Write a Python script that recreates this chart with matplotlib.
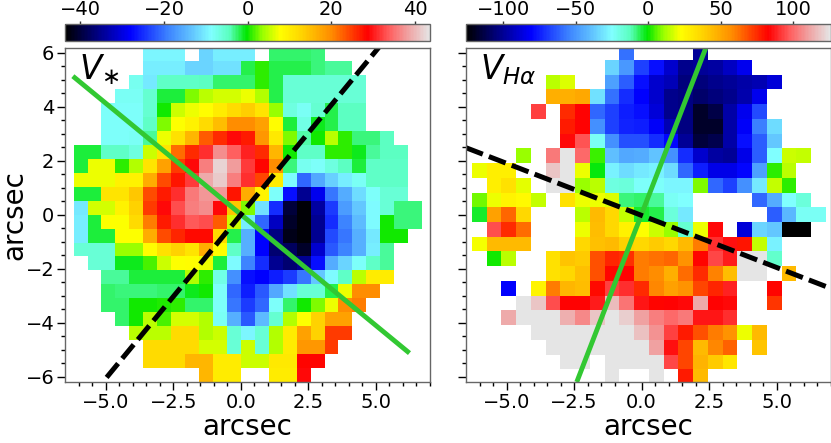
import numpy as np
import matplotlib
matplotlib.use('Agg')
import matplotlib.pyplot as plt
from matplotlib.colors import LinearSegmentedColormap

plt.rcParams['font.family'] = ['DejaVu Sans']
plt.rcParams['mathtext.fontset'] = 'dejavusans'

n = np.nan

# stellar velocity map, top row first
v_star = [
    [n,n,n,n,n,-9.5,-9.5,-9.5,n,-12,-10,-10,-10,n,-2.5,-2.5,-2.5,-3,n,n,n,n,n,n,n],
    [n,n,n,n,n,-10,-10,-10,-12,-12,-11,-11,-2,1,-2,-2,-2,-3,-3.5,-3.5,n,n,n,n,n],
    [n,n,n,n,-7.5,-10.5,-5,-5,-5,-4.5,-2.5,-2.5,-2.5,1,-2,-6,-6,-6,-6,-6,-6,n,n,n,n],
    [n,n,n,-8,-8,-5.5,-1.5,-1.5,3,5,6,6,7,4.5,-2,-6,-6,-6,-6,-6,-6,n,n,n,n],
    [n,n,-8.5,-8.5,-8.5,-5.5,0,5.5,7,8,10,12,13.5,11,3.5,-6.5,-8,-5.5,-2,-4.5,-4.5,n,n,n,n],
    [n,n,-8.5,-8.5,-8.5,-5,3,7.5,9.5,12,15,20,20,18,8,-1.5,-7,-1,-2,-4.5,-4.5,n,n,n,n],
    [n,n,-8.5,-8.5,-8,-3.5,7,11.5,16,23,26,29,27,19,10.5,3,-4,0,5,1,-3,-3,-4.5,n,n],
    [-1.5,-1.5,-5,-5,-6.5,5.5,11,22,26,31,37,34,30.5,26,16,0,-5,-5,1,1,-1,-3.5,-4.5,-4.5,n],
    [-1.5,7,7,1,4.5,11,18,25,29,36,42,38,32,28.5,20,-3,-7.5,-8.5,-6.5,-4.5,-1.5,-5,-5,-5,n],
    [7,7,7,9.5,9.5,17,24,27.5,32,39,41.5,36,31,24.5,10,-9,-21,-16,-12.5,-10,-8,-5,-5,-5,n],
    [-1.5,-1.5,11,11,14,24,27,31,35.5,37.5,37.5,27.5,17,9,-8.5,-27,-35,-29,-20,-15.5,-11.5,-8.5,-6,-6,n],
    [-10.5,6,6,9.5,13,25,29,33,36,37,29,14,3,-11,-25,-40,-43,-34,-24,-17,-13,-9,-6,-3,-3],
    [-10,-1.5,7.5,7.5,12,21,27,31,33.5,33,23,5.5,-10,-21,-32,-41,-43,-35,-25,-19,-14,-9,0,-3,-3],
    [-10,-1.5,-1.5,7.5,7.5,17,24,26.5,28,28,12,-2,-15,-28,-36,-42,-43,-35,-23,-20,-15,-10.5,0,0,n],
    [-6,-6,-6,3.5,3.5,8,11.5,13,11,17,8,-5,-15,-28,-37,-38,-41,-31,-22,-19,-15,-10,-3.5,n,n],
    [n,-6,-6,-1,-1,1.5,5.5,7.5,8,7,-1.5,-9,-19,-25,-35,-37,-35,-27,-15.5,-12,-8.5,-5,-3.5,n,n],
    [n,n,-3.5,-3.5,-1.5,-1.5,-1.5,-1.5,4.5,1,-7,-18,-27,-28,-26,-24,-20,-13,-9,-5,5,10,10,n,n],
    [n,n,-2.5,-3,-3,-3,-2.5,-2.5,-1,0,-8.5,-21,-26,-22,-16,-11,-6,-6,-2,7,20,20,n,n,n],
    [n,n,-2.5,-2.5,0,0,0.5,1,-2.5,-2.5,-8.5,-20,-24,-21,-8.5,-2.5,0,3,7,20,21,n,n,n,n],
    [n,n,n,-2.5,0,5,1.5,6,6,4.5,-8,-15,-22,-14,-5.5,4.5,7.5,13,18,18,n,n,n,n,n],
    [n,n,n,n,5,5,5,12,12,4.5,5.5,-6,-9.5,-6,4.5,10,18,13,25,25,n,n,n,n,n],
    [n,n,n,n,n,12,12,12,12,6,6,-6,5.5,-6,4.5,10,19,19,25,n,n,n,n,n,n],
    [n,n,n,n,n,12,12,12,16,16,10,10,5.5,5.5,10.5,10.5,28.5,28.5,n,n,n,n,n,n,n],
    [n,n,n,n,n,n,n,n,n,16,10,10,n,n,10,10,29,n,n,n,n,n,n,n,n],
]

# H-alpha velocity map, top row first
v_ha = [
    [n,n,n,n,n,n,n,n,n,n,-58,n,n,n,n,-100,n,n,n,n,n,n,n,n],
    [n,n,n,n,n,n,n,n,n,-35,-50,-68,-78,-90,-102,-100,-98,-92,-84,n,n,n,n,n],
    [n,n,n,n,n,14,18,n,n,-48,-62,-78,-90,-94,-105,-105,-102,-100,-97,-95,-88,n,n,n],
    [n,n,n,n,n,48,48,50,-32,-58,-72,-81,-90,-102,-104,-108,-105,-102,-96,-84,n,n,n,n],
    [n,n,n,n,93,n,75,83,-60,-68,-75,-78,-88,-102,-104,-118,-113,-97,-84,-66,n,n,n,n],
    [n,n,n,n,n,n,78,83,-52,-68,-74,-75,-82,-95,-104,-118,-118,-97,-82,-55,-33,n,n,n],
    [n,n,n,n,n,n,84,96,-23,-52,-65,-65,-72,-80,-100,-115,-112,-97,-78,-62,-38,n,n,n],
    [n,n,n,10,n,103,126,100,3,-40,-46,-45,-39,-52,-72,-90,-98,-100,-85,-62,-25,16,15,n],
    [20,28,28,n,n,118,126,20,-1,-28,-33,-30,-28,-33,-60,-75,-85,-85,-80,-48,2,14,n,n],
    [n,28,33,19,n,126,126,10,14,-19,-18,-24,-24,-27,-27,8,-60,-68,-52,-30,15,2,n,n],
    [7,20,26,24,15,n,33,20,20,18,-8,-7,-10,-23,-25,n,n,n,n,-60,-45,-25,-18,n],
    [-3,52,64,36,n,n,n,14,45,36,15,-3,-5,-18,-30,n,n,n,n,n,-62,-42,-23,-23],
    [n,95,75,63,n,n,n,20,44,36,27,22,16,10,-16,20,84,n,-88,-35,-38,-126,-126,n],
    [21,45,45,45,n,n,n,36,43,45,38,36,40,36,45,60,90,85,79,15,-28,n,n,n],
    [n,0,14,n,n,33,42,40,68,76,74,60,62,64,55,82,94,87,126,126,-15,n,n,n],
    [n,n,n,n,n,33,36,43,68,82,83,60,57,48,63,75,59,44,126,126,n,45,n,n],
    [n,n,-81,n,26,60,46,44,81,93,90,75,58,52,55,70,76,88,n,n,82,n,n,n],
    [n,n,n,126,118,95,83,83,87,116,102,86,82,83,84,112,83,84,n,n,73,n,n,n],
    [n,n,112,126,126,126,113,106,118,126,120,110,104,100,103,86,86,90,n,n,n,n,n,n],
    [n,n,n,n,126,126,126,126,126,126,126,117,108,93,78,68,60,55,20,45,n,n,n,n],
    [n,n,n,n,n,126,126,126,126,126,126,126,110,85,70,45,58,65,n,42,n,n,n,n],
    [n,n,n,n,n,n,126,126,n,126,126,126,126,94,70,47,40,31,n,n,n,n,n,n],
    [n,n,n,n,n,n,n,n,n,126,n,n,126,n,78,45,n,n,n,n,n,n,n,n],
]

# position angle lines, arcsec
star_green_x = [-6.22, 6.24]
star_green_y = [5.13, -5.13]
star_dash_x = [-4.97, 5.1]
star_dash_y = [-6.03, 6.19]
ha_green_x = [-2.4, 2.38]
ha_green_y = [-6.2, 6.185]
ha_dash_x = [-6.5, 7.0]
ha_dash_y = [2.48, -2.73]

vel_stops = [
    (0.0, (0, 0, 0)), (0.08, (0, 0, 120)), (0.177, (0, 0, 255)), (0.28, (60, 130, 255)),
    (0.35, (100, 200, 255)), (0.40, (128, 255, 255)), (0.45, (90, 255, 190)),
    (0.497, (0, 230, 0)), (0.54, (150, 255, 0)), (0.589, (255, 255, 0)), (0.645, (255, 215, 0)),
    (0.73, (255, 140, 0)), (0.83, (255, 0, 0)), (0.89, (255, 95, 95)), (0.94, (240, 160, 160)),
    (1.0, (229, 229, 229)),
]
vel_cmap = LinearSegmentedColormap.from_list(
    'vel', [(f, tuple(c / 255 for c in rgb)) for f, rgb in vel_stops], N=256)
vel_cmap.set_bad('white')

W, H = 831, 443


def rect(x0, x1, y0, y1):
    return [x0 / W, 1 - y1 / H, (x1 - x0) / W, (y1 - y0) / H]


fig = plt.figure(figsize=(W / 100, H / 100), dpi=100)
spine_col = '#666666'


def panel(x0, x1, data, vmax, xedges, yedges, ticks):
    ax = fig.add_axes(rect(x0, x1, 47.7, 382))
    m = ax.pcolormesh(xedges, yedges, np.array(data, dtype=float), cmap=vel_cmap,
                      vmin=-vmax, vmax=vmax, shading='flat')
    ax.set_xlim(-6.5, 7.0)
    ax.set_ylim(-6.2, 6.185)
    ax.set_xticks([-5, -2.5, 0, 2.5, 5])
    ax.set_xticklabels(['\u22125.0', '\u22122.5', '0.0', '2.5', '5.0'])
    ax.set_xticks(np.arange(-6, 7.01, 0.5), minor=True)
    ax.set_yticks(np.arange(-6, 6.01, 2))
    ax.set_yticks(np.arange(-6, 6.01, 0.5), minor=True)
    ax.tick_params(which='major', length=5.8, width=1, labelsize=14, pad=2, color='black')
    ax.tick_params(which='minor', length=2.6, width=1, color='black')
    for s in ax.spines.values():
        s.set_color(spine_col)
        s.set_linewidth(1)
    ax.set_xlabel('arcsec', fontsize=20, labelpad=1)
    cax = fig.add_axes(rect(x0, x1, 24.3, 41.3))
    cb = fig.colorbar(m, cax=cax, orientation='horizontal', ticks=ticks)
    cax.xaxis.set_ticks_position('top')
    cax.tick_params(length=2.5, width=1, labelsize=14, pad=1, color='#333333')
    cb.outline.set_edgecolor(spine_col)
    cb.outline.set_linewidth(1)
    return ax


star_size = 0.516
ha_size = 0.546
star_x = np.arange(-12, 14) * star_size
star_y = np.arange(12, -13, -1) * star_size
ha_x = (np.arange(-12, 13) + 0.5) * ha_size
ha_y = (np.arange(12, -12, -1) - 0.5) * ha_size

ax1 = panel(65.3, 430, v_star, 43.6, star_x, star_y, [-40, -20, 0, 20, 40])
ax1.plot(star_green_x, star_green_y, color='#32c832', lw=3.5, solid_capstyle='butt')
ax1.plot(star_dash_x, star_dash_y, color='black', lw=3.6, dashes=(3.6, 1.3), dash_capstyle='butt')
ax1.text(-6.0, 5.03, r'$V_{\ast}$', fontsize=23.5)
ax1.set_ylabel('arcsec', fontsize=20, labelpad=-2)

ax2 = panel(466, 830.7, v_ha, 125.7, ha_x, ha_y, [-100, -50, 0, 50, 100])
ax2.plot(ha_green_x, ha_green_y, color='#32c832', lw=3.5, solid_capstyle='butt')
ax2.plot(ha_dash_x, ha_dash_y, color='black', lw=3.6, dashes=(3.6, 1.3), dash_capstyle='butt')
ax2.text(-5.98, 5.03, r'$V_{H\alpha}$', fontsize=23.5)
ax2.tick_params(axis='y', labelleft=False)

fig.savefig('out.png', dpi=100)
